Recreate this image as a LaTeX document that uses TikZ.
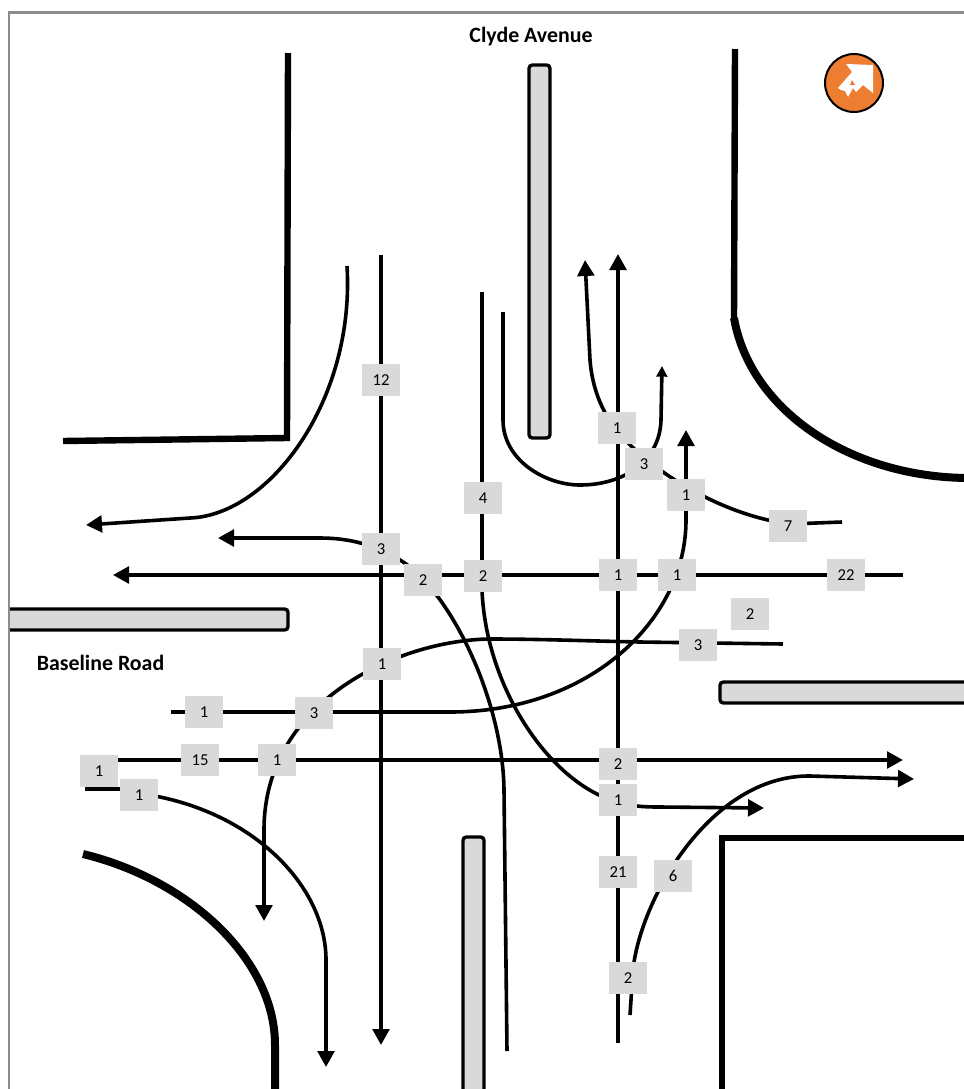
\documentclass[tikz,border=0pt]{standalone}
\usepackage{fontspec}
\setmainfont{Carlito}
\usetikzlibrary{arrows.meta,positioning}
\definecolor{islandgray}{HTML}{D9D9D9}
\definecolor{iconorange}{HTML}{ED7D31}
\definecolor{framegray}{HTML}{8C8C8C}
\tikzset{
  kerb/.style={line width=4.8pt,line join=miter},
  kerbcurve/.style={line width=6pt},
  island/.style={draw,line width=2.5pt,fill=islandgray,rounded corners=2.5pt},
  flow/.style={line width=2.7pt},
  flowtip/.style={-{Triangle[length=12pt,width=12.5pt]}},
  smalltip/.style={-{Triangle[length=8pt,width=8pt]}},
  countbox/.style={fill=islandgray,minimum width=28.5pt,minimum height=24pt,inner sep=0pt,font=\fontsize{12.5}{14}\selectfont},
  roadname/.style={font=\fontsize{16.4}{18}\selectfont\bfseries}
}

\begin{document}
\begin{tikzpicture}[x=0.75pt,y=-0.75pt]
\useasboundingbox (0,0) rectangle (964,1089);
\clip (0,0) rectangle (964,1089);

% Kerbs
\draw[kerb] (288,53) -- (287,438) -- (63,441);
\draw[kerb] (735,49) -- (734,320);
\draw[kerbcurve] (734,318) .. controls (750,410) and (850,478) .. (970,478);
\draw[kerb] (722,1095) -- (722,838) -- (970,838);
\draw[kerbcurve] (83,854) .. controls (190,880) and (275,960) .. (275,1045) -- (275,1095);

% Islands
\begin{scope}
\clip (9,600) rectangle (300,640);
\draw[island] (-10,609) rectangle (288,630);
\end{scope}
\draw[island] (720,682) rectangle (980,703);
\draw[island] (463,837) rectangle (484,1110);
\draw[island] (529,65) rectangle (550,438);

% Frame
\draw[framegray,line width=1.6pt] (9,1095) -- (9,12.5) -- (970,12.5);

% Through movements
\draw[flow,flowtip] (381,255) -- (381,1045);
\draw[flow,flowtip] (618,1043) -- (618,254);
\draw[flow,flowtip] (903,575) -- (113,575);
\draw[flow,flowtip] (100,760) -- (903,760);

% Movements from the west
\draw[flow,flowtip] (85,789) -- (120,789) -- (160,797) .. controls (260,818) and (326,890) .. (326,960) -- (326,1067);
\draw[flow,flowtip] (171,712) -- (450,712) .. controls (590,712) and (686,620) .. (686,520) -- (686,430);

% Movements from the east
\draw[flow,flowtip] (783,644) -- (640,642) .. controls (590,641) and (540,639) .. (490,639) .. controls (400,640) and (264,700) .. (264,830) -- (264,921);
\draw[flow,flowtip] (842,522) -- (790,524) .. controls (720,515) and (650,470) .. (618,432) .. controls (600,410) and (592,385) .. (590,360) -- (585,260);

% Movements from the north
\draw[flow,flowtip] (347,266) .. controls (355,400) and (270,515) .. (190,518) -- (86,525);
\draw[flow,flowtip] (482,292) -- (482,590) .. controls (486,690) and (552,785) .. (618,802) .. controls (632,806) and (640,807) .. (660,807) -- (764,808);
\draw[flow,smalltip] (503,312) -- (503,420) .. controls (503,460) and (545,485) .. (580,485) .. controls (625,485) and (660,460) .. (661,420) -- (662,366);

% Movements from the south
\draw[flow,flowtip] (507,1051) -- (504,790) .. controls (503,700) and (450,590) .. (400,560) .. controls (375,545) and (350,538) .. (320,538) -- (218,538);
\draw[flow,flowtip] (630,1015) -- (633,970) .. controls (640,900) and (710,775) .. (810,776) -- (914,779);

% Counts
\node[countbox] (ns12) at (381,380) {12};
\node[countbox] (nb1) at (617,428) {1};
\node[countbox] (ub3) at (644,464) {3};
\node[countbox] (wr1) at (686,495) {1};
\node[countbox] (sl4) at (483,498) {4};
\node[countbox] (wr7) at (788,526) {7};
\node[countbox] (nw3) at (381,549) {3};
\node[countbox] (nw2) at (423,580) {2};
\node[countbox] (wt2) at (483,576) {2};
\node[countbox] (wt1) at (618,575) {1};
\node[countbox] (wl1) at (677,575) {1};
\node[countbox] (wt22) at (846,575) {22};
\node[countbox] (ea2) at (750,614) {2};
\node[countbox] (wl3) at (698,645) {3};
\node[countbox] (wl1b) at (382,664) {1};
\node[countbox] (el1) at (204,712) {1};
\node[countbox] (el3) at (314,713) {3};
\node[countbox] (et15) at (200,760) {15};
\node[countbox] (et1) at (277,760) {1};
\node[countbox] (et2) at (618,764) {2};
\node[countbox] (et1b) at (99,771) {1};
\node[countbox] (er1) at (139,795) {1};
\node[countbox] (sl1) at (618,800) {1};
\node[countbox] (nt21) at (618,872) {21};
\node[countbox] (nr6) at (673,876) {6};
\node[countbox] (nr2) at (628,978) {2};

% Road names
\node[roadname] (clyde) at (531,36.5) {Clyde Avenue};
\node[roadname] (baseline) at (100.5,663) {Baseline Road};

% North arrow
\draw[fill=iconorange,line width=1.5pt] (854,83) circle (29);
\fill[white] (846,64) -- (873,65) -- (873,93) -- (863,85) -- (856,92) -- (853,88) -- (848,97) -- (845,91) -- (841,90) -- (838,88) -- (852,72) -- cycle;
\fill[iconorange] (852,80) -- (855,85) -- (850,85) -- cycle;
\end{tikzpicture}
\end{document}
